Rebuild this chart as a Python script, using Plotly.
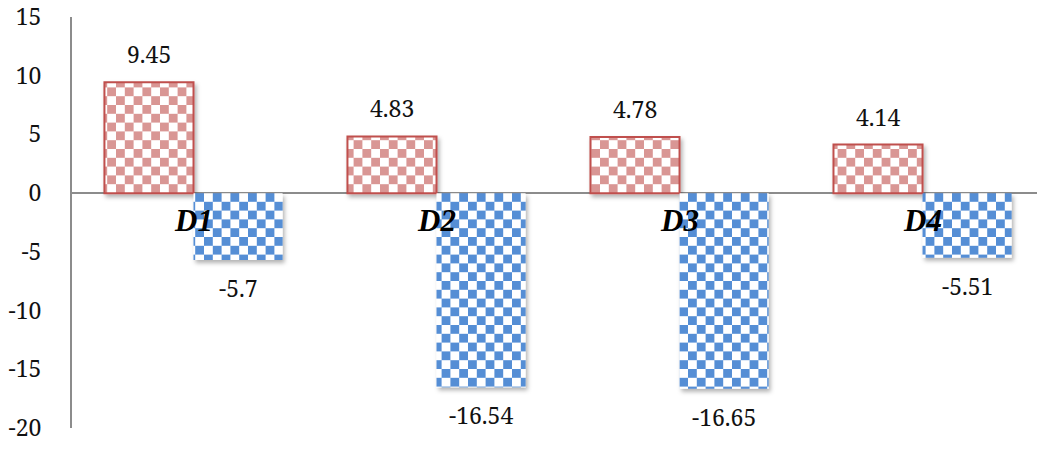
import plotly.graph_objects as go

# Chart data
categories = ["D1", "D2", "D3", "D4"]
positive_values = [9.45, 4.83, 4.78, 4.14]
negative_values = [-5.7, -16.54, -16.65, -5.51]
y_ticks = [15, 10, 5, 0, -5, -10, -15, -20]

RED_FG = "#D99694"
RED_LINE = "#C0504D"
BLUE_FG = "#558ED5"
NUM_FONT = dict(family="Noto Serif", size=23, color="#111111")
CAT_FONT = dict(family="Liberation Serif", size=31, color="#000000")

fig = go.Figure()
fig.add_trace(go.Bar(
    x=categories, y=positive_values, name="positive",
    marker=dict(
        color="white",
        line=dict(color=RED_LINE, width=2),
        pattern=dict(shape="+", fgcolor=RED_FG, bgcolor="white",
                     size=17.6, solidity=0.5, fillmode="replace"),
    ),
))
fig.add_trace(go.Bar(
    x=categories, y=negative_values, name="negative",
    marker=dict(
        color="white",
        line=dict(width=0),
        pattern=dict(shape="+", fgcolor=BLUE_FG, bgcolor="white",
                     size=17.6, solidity=0.5, fillmode="replace"),
    ),
))

annotations = []
# value labels above / below each bar
for cat, v in zip(categories, positive_values):
    annotations.append(dict(x=cat, y=v, text=f"{v:g}", showarrow=False,
                            xshift=-44.5, yshift=28, font=NUM_FONT))
for cat, v in zip(categories, negative_values):
    annotations.append(dict(x=cat, y=v, text=f"{v:g}", showarrow=False,
                            xshift=44.5, yshift=-28, font=NUM_FONT))
# category names sitting just under the zero line
for cat in categories:
    annotations.append(dict(x=cat, y=0, text=f"<b><i>{cat}</i></b>", showarrow=False,
                            yshift=-27, font=CAT_FONT))

fig.update_layout(
    width=1037, height=449,
    margin=dict(l=72, r=0, t=15, b=21),
    paper_bgcolor="white", plot_bgcolor="white",
    showlegend=False,
    barmode="group", bargap=0.267, bargroupgap=0,
    annotations=annotations,
    xaxis=dict(range=[-0.5, 3.471], showticklabels=False, showgrid=False,
               showline=False, zeroline=False, ticks=""),
    yaxis=dict(range=[-20, 15], tickvals=y_ticks, ticktext=[str(t) for t in y_ticks],
               showgrid=False, showline=True, linecolor="#8C8C8C", linewidth=2,
               zeroline=True, zerolinecolor="#8C8C8C", zerolinewidth=2,
               ticks="", ticklabelstandoff=24, ticklabeloverflow="allow",
               tickfont=NUM_FONT),
)

# Turn the plotly fill patterns into checkerboards and give bars a soft shadow.
post_js = """
(function(){
  var NS = 'http://www.w3.org/2000/svg';
  function mk(tag, attrs){
    var e = document.createElementNS(NS, tag);
    for (var k in attrs) e.setAttribute(k, attrs[k]);
    return e;
  }
  function restyle(){
    var gd = document.getElementById('{plot_id}');
    if (!gd) return;
    gd.querySelectorAll('pattern').forEach(function(p){
      if (p.getAttribute('data-checker')) return;
      var rect = p.querySelector('rect');
      var shape = p.querySelector('path');
      var bg = rect ? rect.getAttribute('fill') : 'white';
      var fg = shape ? shape.getAttribute('stroke') : 'black';
      var w = parseFloat(p.getAttribute('width'));
      var c = w / 2;
      p.removeAttribute('patternTransform');
      while (p.firstChild) p.removeChild(p.firstChild);
      p.appendChild(mk('rect', {x:0, y:0, width:w, height:w, fill:bg}));
      p.appendChild(mk('rect', {x:0, y:0, width:c, height:c, fill:fg}));
      p.appendChild(mk('rect', {x:c, y:c, width:c, height:c, fill:fg}));
      p.setAttribute('data-checker', '1');
    });
    var defs = gd.querySelector('svg.main-svg defs');
    if (defs && !gd.querySelector('#barshadow')) {
      var f = mk('filter', {id:'barshadow', x:'-10%', y:'-10%', width:'130%', height:'130%'});
      f.appendChild(mk('feDropShadow', {dx:2, dy:3, stdDeviation:2,
                                        'flood-color':'#000', 'flood-opacity':0.3}));
      defs.appendChild(f);
    }
    gd.querySelectorAll('.bars .point path').forEach(function(el){
      el.setAttribute('filter', 'url(#barshadow)');
    });
  }
  restyle();
  var gd = document.getElementById('{plot_id}');
  if (gd && gd.on) gd.on('plotly_afterplot', restyle);
})();
"""

fig.write_html("out.html", post_script=post_js)
